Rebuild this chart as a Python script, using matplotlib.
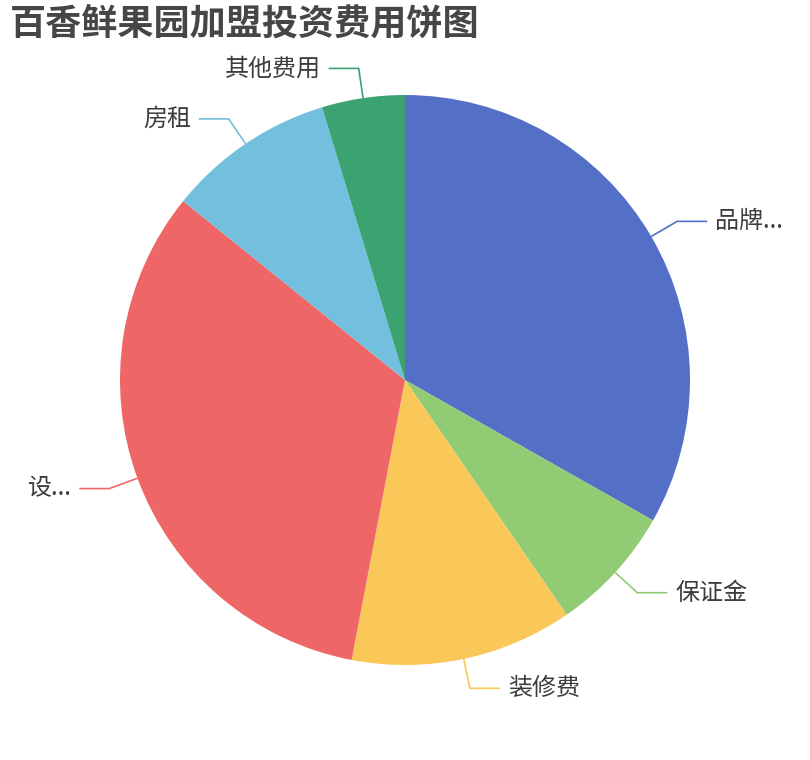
import numpy as np
import matplotlib
matplotlib.use("Agg")
import matplotlib.pyplot as plt

plt.rcParams['font.family'] = ['Noto Sans CJK SC', 'DejaVu Sans']

title = "百香鲜果园加盟投资费用饼图"
labels = ["品牌...", "保证金", "装修费", "设...", "房租", "其他费用"]
values = [33.2, 7.2, 12.6, 32.8, 9.5, 4.7]
colors = ["#5470c6", "#91cc75", "#fac858", "#ee6666", "#73c0de", "#3ba272"]

W, H = 810, 760
fig = plt.figure(figsize=(W / 100, H / 100), dpi=100)
ax = fig.add_axes([0, 0, 1, 1])

cx, cy, R = 405, H - 380, 285
ax.pie(values, colors=colors, startangle=90, counterclock=False,
       radius=R, center=(cx, cy), frame=True,
       wedgeprops=dict(linewidth=0))
ax.set_xlim(0, W)
ax.set_ylim(0, H)
ax.set_aspect('equal')
ax.axis('off')

total = sum(values)
cum = 0
len1, len2, gap = 30, 30, 8
for lab, v, c in zip(labels, values, colors):
    mid = np.deg2rad(90 - (cum + v / 2) / total * 360)
    cum += v
    dx, dy = np.cos(mid), np.sin(mid)
    x0, y0 = cx + R * dx, cy + R * dy
    x1, y1 = cx + (R + len1) * dx, cy + (R + len1) * dy
    s = 1 if dx >= 0 else -1
    x2 = x1 + s * len2
    ax.plot([x0, x1, x2], [y0, y1, y1], color=c, lw=1.2, solid_capstyle='butt')
    ax.text(x2 + s * gap, y1, lab, ha='left' if s > 0 else 'right', va='center',
            fontsize=17.3, color='#3c3c3c')

fig.text(10 / W, 1 - 25 / H, title, ha='left', va='center', fontsize=26,
         fontweight='bold', color='#464646')

fig.savefig("out.png", dpi=100)
